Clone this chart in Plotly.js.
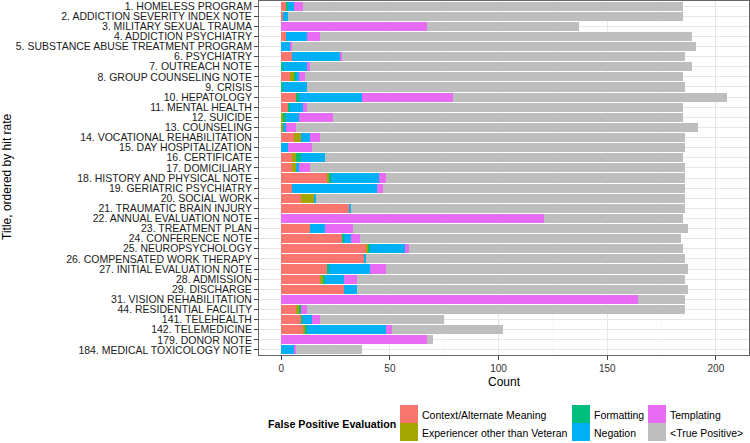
<!DOCTYPE html>
<html>
<head>
<meta charset="utf-8">
<script src="https://cdn.plot.ly/plotly-3.0.1.min.js"></script>
<style>
html,body{margin:0;padding:0;background:#fff;}
#chart{width:750px;height:443px;}
</style>
</head>
<body>
<div id="chart"></div>
<script>
// Categories, top to bottom
var categories = [
  "1. HOMELESS PROGRAM",
  "2. ADDICTION SEVERITY INDEX NOTE",
  "3. MILITARY SEXUAL TRAUMA",
  "4. ADDICTION PSYCHIATRY",
  "5. SUBSTANCE ABUSE TREATMENT PROGRAM",
  "6. PSYCHIATRY",
  "7. OUTREACH NOTE",
  "8. GROUP COUNSELING NOTE",
  "9. CRISIS",
  "10. HEPATOLOGY",
  "11. MENTAL HEALTH",
  "12. SUICIDE",
  "13. COUNSELING",
  "14. VOCATIONAL REHABILITATION",
  "15. DAY HOSPITALIZATION",
  "16. CERTIFICATE",
  "17. DOMICILIARY",
  "18. HISTORY AND PHYSICAL NOTE",
  "19. GERIATRIC PSYCHIATRY",
  "20. SOCIAL WORK",
  "21. TRAUMATIC BRAIN INJURY",
  "22. ANNUAL EVALUATION NOTE",
  "23. TREATMENT PLAN",
  "24. CONFERENCE NOTE",
  "25. NEUROPSYCHOLOGY",
  "26. COMPENSATED WORK THERAPY",
  "27. INITIAL EVALUATION NOTE",
  "28. ADMISSION",
  "29. DISCHARGE",
  "31. VISION REHABILITATION",
  "44. RESIDENTIAL FACILITY",
  "141. TELEHEALTH",
  "142. TELEMEDICINE",
  "179. DONOR NOTE",
  "184. MEDICAL TOXICOLOGY NOTE"
];

var contextAlt   = [2,1,0,2,0,5,0,4,0,7,3,0,0,6,0,5,5,21,5,9,31,0,13,28,39,38,21,18,29,0,7,9,10,0,0];
var experiencer  = [0,0,0,0,0,0,0,2,0,0,0,1,1,3,0,2,2,1,0,6,0,0,0,0,1,0,0,1,0,0,1,0,1,0,0];
var formatting   = [1,0,0,0,0,0,1,1,1,1,1,1,0,0,0,2,0,1,0,0,0,0,0,1,1,0,1,1,0,0,1,1,1,0,0];
var negation     = [3,2,0,10,4,22,11,1,11,29,6,6,1,4,3,11,1,22,39,1,1,0,7,3,16,1,19,9,6,0,0,4,36,0,6];
var templating   = [4,0,67,6,1,1,1,3,0,42,2,16,5,5,11,0,5,3,3,0,0,121,13,4,2,0,7,6,0,164,3,4,3,67,1];
var truePositive = [175,182,70,171,186,158,176,174,174,126,173,161,185,168,172,165,173,138,139,170,154,64,154,148,126,147,139,151,152,22,174,57,51,3,30];

var seriesNames  = ["Context/Alternate Meaning","Experiencer other than Veteran","Formatting","Negation","Templating","<True Positive>"];
var seriesValues = [contextAlt, experiencer, formatting, negation, templating, truePositive];
var seriesColors = ["#F8766D","#A3A500","#00BF7D","#00B0F6","#E76BF3","#BEBEBE"];

var legendTitle = "False Positive Evaluation";
var xTickVals = [0,50,100,150,200];
var xMinorVals = [25,75,125,175];

var FONT = "Liberation Sans, Arial, sans-serif";

// ---- page geometry (pixels) ----
var W = 750, H = 443;
var M = {l:259, r:1, t:1, b:88};
var plotW = W - M.l - M.r, plotH = H - M.t - M.b;
function px2x(px){ return (px - M.l) / plotW; }
function px2y(py){ return (H - M.b - py) / plotH; }

var traces = seriesNames.map(function(name,i){
  return {
    type:"bar",
    orientation:"h",
    name:name,
    y:categories,
    x:seriesValues[i],
    marker:{color:seriesColors[i], line:{width:0}},
    showlegend:false,
    hoverinfo:"none"
  };
});

// ---- legend, laid out in 3 columns x 2 rows like the ggplot guide ----
var legColKeyX = [400, 572, 648];   // left edge of key squares
var legRowTop  = [405, 423];        // top edge of key squares
var keySize = 18;
var shapes = [];
var annotations = [];
seriesNames.forEach(function(name,i){
  var c = Math.floor(i/2), r = i % 2;
  var x0 = legColKeyX[c], y0 = legRowTop[r];
  shapes.push({
    type:"rect", xref:"paper", yref:"paper",
    x0:px2x(x0), x1:px2x(x0+keySize),
    y0:px2y(y0+keySize), y1:px2y(y0),
    fillcolor:seriesColors[i], line:{width:0}, layer:"above"
  });
  annotations.push({
    text:name.replace(/</g,"&lt;").replace(/>/g,"&gt;"),
    xref:"paper", yref:"paper",
    x:px2x(x0+keySize+2), y:px2y(y0+keySize/2+1),
    xanchor:"left", yanchor:"middle",
    showarrow:false,
    font:{family:FONT,size:10.5,color:"#000"}
  });
});
annotations.push({
  text:"<b>"+legendTitle+"</b>",
  xref:"paper", yref:"paper",
  x:px2x(266), y:px2y(424),
  xanchor:"left", yanchor:"middle",
  showarrow:false,
  font:{family:FONT,size:10.7,color:"#000"}
});
annotations.push({
  text:"Title, ordered by hit rate",
  xref:"paper", yref:"paper",
  x:px2x(7), y:px2y(177),
  xanchor:"center", yanchor:"middle",
  textangle:-90,
  showarrow:false,
  font:{family:FONT,size:12,color:"#000"}
});

var layout = {
  width:W,
  height:H,
  margin:{l:M.l,r:M.r,t:M.t,b:M.b,pad:0},
  paper_bgcolor:"#fff",
  plot_bgcolor:"#fff",
  barmode:"stack",
  bargap:0.1,
  font:{family:FONT,color:"#222"},
  showlegend:false,
  xaxis:{
    range:[-10.25,215.25],
    tickmode:"array",
    tickvals:xTickVals,
    ticktext:xTickVals.map(String),
    showgrid:true,
    gridcolor:"#E6E6E6",
    gridwidth:1,
    minor:{tickmode:"array",tickvals:xMinorVals,showgrid:true,gridcolor:"#F3F3F3",gridwidth:0.5,ticks:""},
    zeroline:false,
    showline:true,
    mirror:true,
    linecolor:"#666",
    linewidth:1,
    ticks:"outside",
    ticklen:4,
    tickcolor:"#444",
    tickfont:{family:FONT,size:10,color:"#333"},
    title:{text:"Count",font:{family:FONT,size:12,color:"#000"},standoff:4},
    fixedrange:true
  },
  yaxis:{
    type:"category",
    autorange:"reversed",
    tickmode:"array",
    tickvals:categories,
    ticktext:categories,
    showgrid:true,
    gridcolor:"#E6E6E6",
    gridwidth:1,
    zeroline:false,
    showline:true,
    mirror:true,
    linecolor:"#666",
    linewidth:1,
    ticks:"outside",
    ticklen:4,
    tickcolor:"#444",
    tickfont:{family:FONT,size:10.5,color:"#1a1a1a"},
    automargin:false,
    fixedrange:true
  },
  shapes:shapes,
  annotations:annotations
};

Plotly.newPlot("chart", traces, layout, {staticPlot:true, displayModeBar:false});
</script>
</body>
</html>
